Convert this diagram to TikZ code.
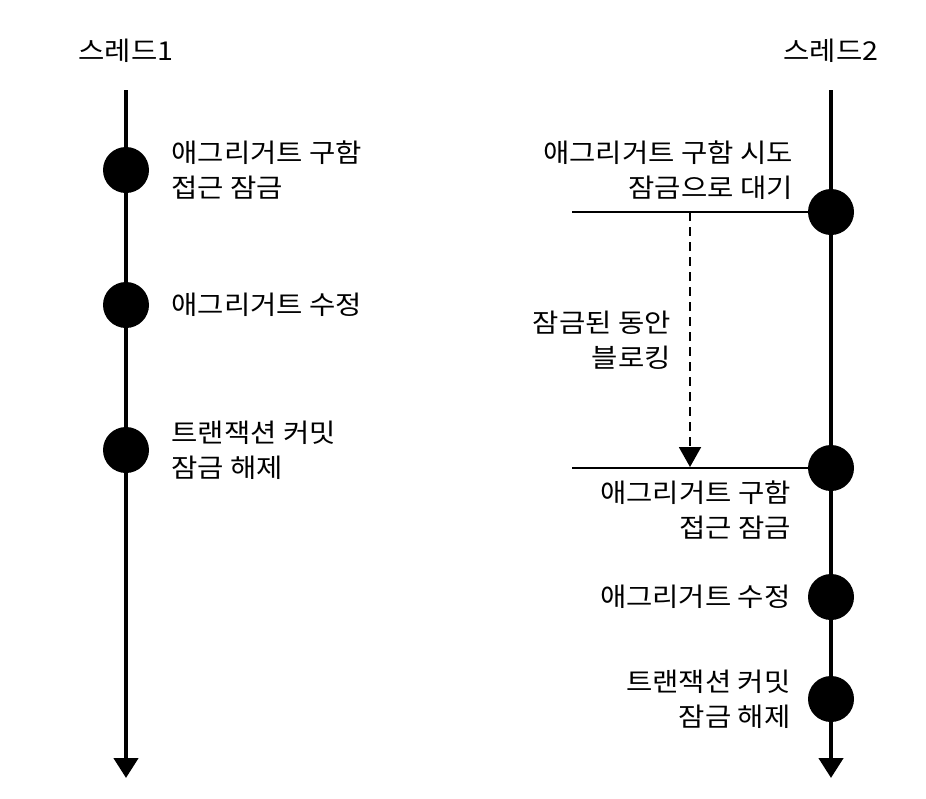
\documentclass[tikz,border=0pt]{standalone}
\usepackage{fontspec}
\setmainfont{Noto Sans CJK KR}[FakeStretch=1.1]
\usetikzlibrary{arrows.meta,positioning}

\tikzset{
  thread/.style={line width=4.5pt, -{Triangle[width=24pt,length=20pt]}},
  event/.style={circle, fill=black, minimum size=46pt, inner sep=0pt},
  lbl/.style={font=\fontsize{26}{35}\selectfont, inner sep=0pt},
  mark line/.style={line width=1.8pt},
  wait/.style={line width=2pt, dash pattern=on 9pt off 6pt, -{Triangle[width=22pt,length=20pt]}}
}

\begin{document}
\begin{tikzpicture}[x=1pt, y=-1pt]
    \useasboundingbox (0,0) rectangle (926,798);
    % thread 1
    \coordinate (T1top) at (126, 90);
    \coordinate (T1end) at (126, 778);
    \node[lbl] (title1) at (126, 51) {스레드1};
    \draw[thread] (T1top) -- (T1end);
    \node[event] (A1) at (126, 170) {};
    \node[event] (A2) at (126, 305) {};
    \node[event] (A3) at (126, 450) {};
    \node[lbl, align=left, right=22pt of A1] (a1) {애그리거트 구함\\접근 잠금};
    \node[lbl, align=left, right=22pt of A2] (a2) {애그리거트 수정};
    \node[lbl, align=left, right=22pt of A3] (a3) {트랜잭션 커밋\\잠금 해제};
    % thread 2
    \coordinate (T2top) at (831, 90);
    \coordinate (T2end) at (831, 778);
    \node[lbl] (title2) at (831, 51) {스레드2};
    \draw[thread] (T2top) -- (T2end);
    \coordinate (H1) at (572, 212);
    \coordinate (H2) at (572, 468);
    \coordinate (D1) at (690, 212);
    \coordinate (D2) at (690, 467);
    \draw[mark line] (H1) -- (831, 212);
    \draw[mark line] (H2) -- (831, 468);
    \draw[wait] (D1) -- (D2);
    \node[event] (B1) at (831, 212) {};
    \node[event] (B2) at (831, 468) {};
    \node[event] (B3) at (831, 597) {};
    \node[event] (B4) at (831, 699) {};
    \node[lbl, align=right, anchor=east] (b1) at (793, 170) {애그리거트 구함 시도\\잠금으로 대기};
    \node[lbl, align=right, anchor=east] (wait) at (671, 340) {잠금된 동안\\블로킹};
    \node[lbl, align=right, anchor=east] (b2) at (791, 510) {애그리거트 구함\\접근 잠금};
    \node[lbl, align=right, left=17pt of B3] (b3) {애그리거트 수정};
    \node[lbl, align=right, left=17pt of B4] (b4) {트랜잭션 커밋\\잠금 해제};
\end{tikzpicture}
\end{document}
